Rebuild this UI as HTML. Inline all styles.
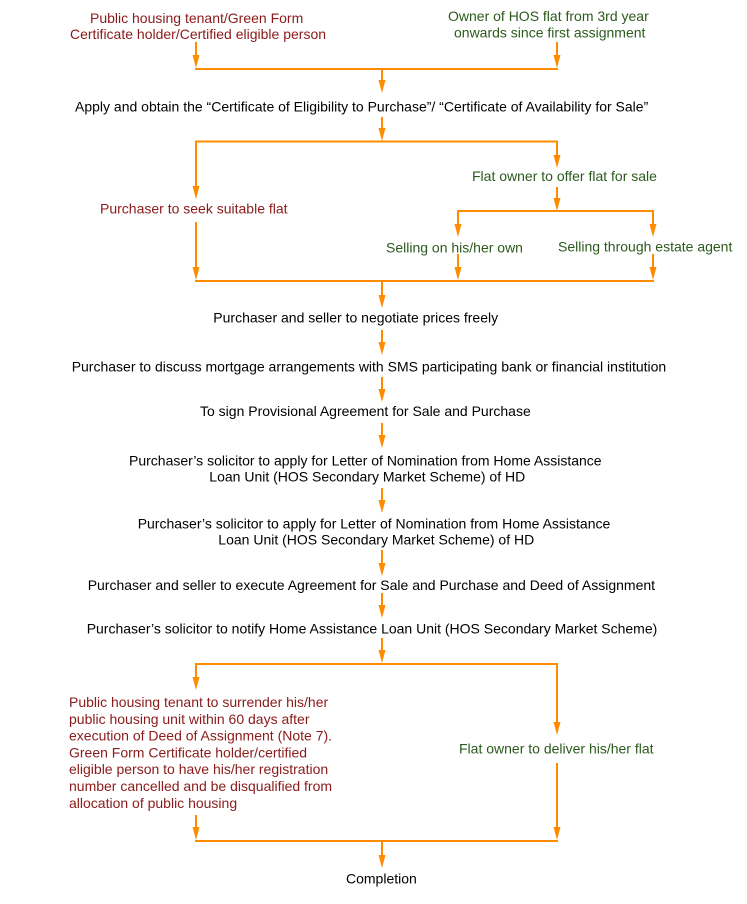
<!DOCTYPE html>
<html>
<head>
<meta charset="utf-8">
<style>
  html, body { margin: 0; padding: 0; background: #fff; }
  body { width: 747px; height: 904px; overflow: hidden; }
  svg { display: block; }
  text { font-family: "Liberation Sans", Arial, sans-serif; font-size: 14px; }
  .k { fill: #000; }
  .r { fill: #8b1a1a; }
  .g { fill: #2b5a1c; }
</style>
</head>
<body>
<svg width="747" height="904" viewBox="0 0 747 904" xmlns="http://www.w3.org/2000/svg">
  <defs>
    <marker id="ah" markerWidth="8" markerHeight="13" refX="4" refY="13" orient="0" markerUnits="userSpaceOnUse">
      <polygon points="0.5,0 7.5,0 4,13" fill="#ff8c00"/>
    </marker>
  </defs>
  <g stroke="#ff8c00" stroke-width="2" fill="none">
    <!-- horizontals -->
    <line x1="195" y1="69" x2="558" y2="69"/>
    <line x1="195" y1="141.5" x2="558" y2="141.5"/>
    <line x1="457" y1="211" x2="654" y2="211"/>
    <line x1="195" y1="281" x2="654" y2="281"/>
    <line x1="195" y1="664" x2="558" y2="664"/>
    <line x1="195" y1="841" x2="558" y2="841"/>
  </g>
  <g fill="#ff8c00" stroke="none">
    <!-- arrows: rect line + triangle head -->
    <!-- helper pattern: line from y1 to y2-12, head from y2-13 to y2 -->
    <!-- x196 42->68 -->
    <rect x="195" y="42" width="2" height="15"/><polygon points="192.5,55 199.5,55 196,68"/>
    <!-- x557 42->68 -->
    <rect x="556" y="42" width="2" height="15"/><polygon points="553.5,55 560.5,55 557,68"/>
    <!-- x382 70->93 -->
    <rect x="381" y="70" width="2" height="12"/><polygon points="378.5,80 385.5,80 382,93"/>
    <!-- x382 117->141 -->
    <rect x="381" y="117" width="2" height="13"/><polygon points="378.5,128 385.5,128 382,141"/>
    <!-- x196 141->199 -->
    <rect x="195" y="141" width="2" height="47"/><polygon points="192.5,186 199.5,186 196,199"/>
    <!-- x557 141->168 -->
    <rect x="556" y="141" width="2" height="16"/><polygon points="553.5,155 560.5,155 557,168"/>
    <!-- x557 187->211 (line only to horizontal) -->
    <rect x="556" y="187" width="2" height="13"/><polygon points="553.5,198 560.5,198 557,211"/>
    <!-- x458 211->237 -->
    <rect x="457" y="211" width="2" height="15"/><polygon points="454.5,224 461.5,224 458,237"/>
    <!-- x653 211->237 -->
    <rect x="652" y="211" width="2" height="15"/><polygon points="649.5,224 656.5,224 653,237"/>
    <!-- x196 222->280 -->
    <rect x="195" y="222" width="2" height="47"/><polygon points="192.5,267 199.5,267 196,280"/>
    <!-- x458 254->280 -->
    <rect x="457" y="254" width="2" height="15"/><polygon points="454.5,267 461.5,267 458,280"/>
    <!-- x653 254->280 -->
    <rect x="652" y="254" width="2" height="15"/><polygon points="649.5,267 656.5,267 653,280"/>
    <!-- x382 281->308 -->
    <rect x="381" y="281" width="2" height="16"/><polygon points="378.5,295 385.5,295 382,308"/>
    <!-- x382 330->355 -->
    <rect x="381" y="330" width="2" height="14"/><polygon points="378.5,342 385.5,342 382,355"/>
    <!-- x382 377->402 -->
    <rect x="381" y="377" width="2" height="14"/><polygon points="378.5,389 385.5,389 382,402"/>
    <!-- x382 423->448 -->
    <rect x="381" y="423" width="2" height="14"/><polygon points="378.5,435 385.5,435 382,448"/>
    <!-- x382 488->513 -->
    <rect x="381" y="488" width="2" height="14"/><polygon points="378.5,500 385.5,500 382,513"/>
    <!-- x382 550->576 -->
    <rect x="381" y="550" width="2" height="15"/><polygon points="378.5,563 385.5,563 382,576"/>
    <!-- x382 593->618 -->
    <rect x="381" y="593" width="2" height="14"/><polygon points="378.5,605 385.5,605 382,618"/>
    <!-- x382 638->663 -->
    <rect x="381" y="638" width="2" height="14"/><polygon points="378.5,650 385.5,650 382,663"/>
    <!-- x196 664->690 -->
    <rect x="195" y="664" width="2" height="15"/><polygon points="192.5,677 199.5,677 196,690"/>
    <!-- x557 664->735 -->
    <rect x="556" y="664" width="2" height="60"/><polygon points="553.5,722 560.5,722 557,735"/>
    <!-- x196 815->840 -->
    <rect x="195" y="815" width="2" height="14"/><polygon points="192.5,827 199.5,827 196,840"/>
    <!-- x557 763->840 -->
    <rect x="556" y="763" width="2" height="66"/><polygon points="553.5,827 560.5,827 557,840"/>
    <!-- x382 841->868 -->
    <rect x="381" y="841" width="2" height="16"/><polygon points="378.5,855 385.5,855 382,868"/>
  </g>

  <!-- Top sources -->
  <text class="r" x="90" y="23">Public housing tenant/Green Form</text>
  <text class="r" x="70" y="39">Certificate holder/Certified eligible person</text>
  <text class="g" x="448" y="21">Owner of HOS flat from 3rd year</text>
  <text class="g" x="454" y="37.5">onwards since first assignment</text>

  <text class="k" x="75" y="111.5">Apply and obtain the “Certificate of Eligibility to Purchase”/ “Certificate of Availability for Sale”</text>

  <text class="g" x="472" y="181">Flat owner to offer flat for sale</text>
  <text class="r" x="100" y="213.3">Purchaser to seek suitable flat</text>
  <text class="g" x="386" y="252.3">Selling on his/her own</text>
  <text class="g" x="558" y="251.3">Selling through estate agent</text>

  <text class="k" x="213.3" y="322.5">Purchaser and seller to negotiate prices freely</text>
  <text class="k" x="71.7" y="371.5">Purchaser to discuss mortgage arrangements with SMS participating bank or financial institution</text>
  <text class="k" x="200" y="416">To sign Provisional Agreement for Sale and Purchase</text>
  <text class="k" x="129" y="465.3">Purchaser’s solicitor to apply for Letter of Nomination from Home Assistance</text>
  <text class="k" x="209.3" y="481.3">Loan Unit (HOS Secondary Market Scheme) of HD</text>
  <text class="k" x="137.7" y="528.3">Purchaser’s solicitor to apply for Letter of Nomination from Home Assistance</text>
  <text class="k" x="218.3" y="544.3">Loan Unit (HOS Secondary Market Scheme) of HD</text>
  <text class="k" x="87.7" y="590">Purchaser and seller to execute Agreement for Sale and Purchase and Deed of Assignment</text>
  <text class="k" x="86.7" y="633.3">Purchaser’s solicitor to notify Home Assistance Loan Unit (HOS Secondary Market Scheme)</text>

  <text class="r" x="69" y="707">Public housing tenant to surrender his/her</text>
  <text class="r" x="69" y="723.8">public housing unit within 60 days after</text>
  <text class="r" x="69" y="740.6">execution of Deed of Assignment (Note 7).</text>
  <text class="r" x="69" y="757.4">Green Form Certificate holder/certified</text>
  <text class="r" x="69" y="774.2">eligible person to have his/her registration</text>
  <text class="r" x="69" y="791">number cancelled and be disqualified from</text>
  <text class="r" x="69" y="807.8">allocation of public housing</text>

  <text class="g" x="459" y="753.3">Flat owner to deliver his/her flat</text>
  <text class="k" x="346" y="883.3">Completion</text>
</svg>
</body>
</html>
